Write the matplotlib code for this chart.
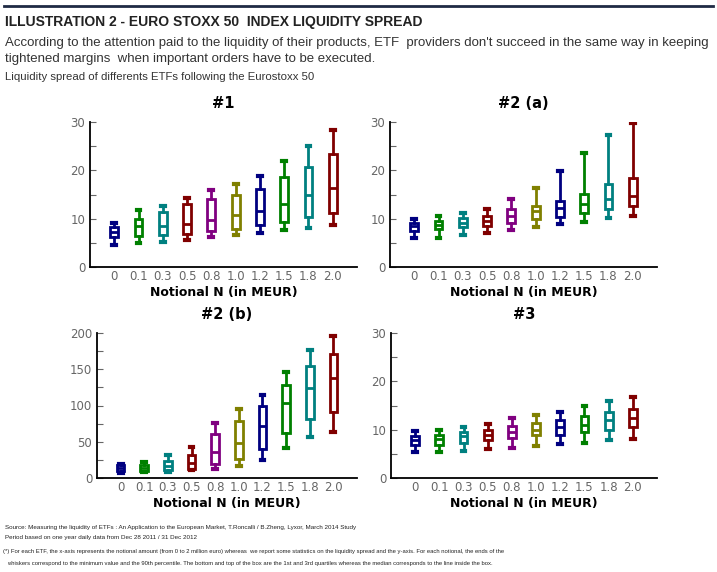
import numpy as np
import matplotlib.pyplot as plt
from matplotlib.ticker import MultipleLocator

notional = ['0', '0.1', '0.3', '0.5', '0.8', '1.0', '1.2', '1.5', '1.8', '2.0']
box_colors = ['#000080', '#008000', '#008080', '#800000', '#800080',
              '#808000', '#000080', '#008000', '#008080', '#800000']

# ETF #1
p1_low = [4.6, 5.0, 5.2, 5.6, 6.2, 6.7, 7.0, 7.6, 8.1, 8.6]
p1_q1 = [6.2, 6.4, 6.7, 6.9, 7.4, 7.8, 8.6, 9.4, 10.3, 11.2]
p1_med = [7.2, 8.4, 8.4, 8.8, 9.7, 10.7, 11.6, 13.0, 15.0, 16.3]
p1_q3 = [8.3, 9.9, 11.3, 13.0, 14.1, 15.0, 16.1, 18.6, 20.6, 23.4]
p1_high = [9.1, 11.7, 12.6, 14.3, 16.0, 17.1, 18.8, 21.9, 25.1, 28.3]

# ETF #2 (a)
p2a_low = [5.9, 6.0, 6.6, 7.0, 7.7, 8.2, 8.8, 9.4, 10.1, 10.6]
p2a_q1 = [7.5, 7.9, 8.3, 8.5, 9.2, 9.9, 10.4, 11.2, 12.1, 12.6]
p2a_med = [8.4, 8.6, 9.1, 9.5, 10.6, 11.6, 12.3, 13.0, 14.0, 14.6]
p2a_q3 = [9.1, 9.5, 10.1, 10.6, 11.9, 12.7, 13.6, 15.2, 17.2, 18.4]
p2a_high = [10.0, 10.5, 11.2, 12.1, 14.1, 16.4, 19.8, 23.6, 27.4, 29.7]

# ETF #2 (b)
p2b_low = [6.9, 7.8, 8.7, 10.6, 12.9, 17.0, 24.4, 41.4, 56.6, 63.4]
p2b_q1 = [9.2, 9.7, 10.6, 12.9, 19.8, 26.2, 40.5, 62.5, 81.4, 91.5]
p2b_med = [13.3, 13.8, 16.1, 20.7, 35.9, 48.3, 71.3, 103.4, 124.6, 138.4]
p2b_q3 = [17.9, 18.4, 23.0, 31.3, 61.1, 79.1, 99.8, 127.8, 155.0, 171.5]
p2b_high = [19.8, 21.6, 32.2, 42.8, 75.9, 95.6, 115.0, 146.7, 176.1, 196.3]

# ETF #3
p3_low = [5.4, 5.4, 5.6, 5.9, 6.3, 6.6, 7.0, 7.3, 7.8, 8.1]
p3_q1 = [6.8, 6.8, 7.3, 7.9, 8.2, 8.8, 9.0, 9.5, 10.0, 10.5]
p3_med = [7.8, 8.0, 8.6, 9.0, 9.5, 9.9, 10.6, 10.9, 12.0, 12.5]
p3_q3 = [8.7, 9.0, 9.6, 10.0, 10.8, 11.4, 11.9, 12.8, 13.7, 14.3]
p3_high = [9.7, 10.0, 10.6, 11.2, 12.4, 13.1, 13.7, 14.8, 16.0, 16.7]


def draw_panel(ax, title, low, q1, med, q3, high, ymax, ystep):
    stats = []
    for i in range(len(notional)):
        stats.append({'whislo': low[i], 'q1': q1[i], 'med': med[i],
                      'q3': q3[i], 'whishi': high[i], 'fliers': []})
    pos = np.arange(1, len(notional) + 1)
    res = ax.bxp(stats, positions=pos, widths=0.32, showfliers=False,
                 patch_artist=True, capwidths=0.16)
    for i, c in enumerate(box_colors):
        res['boxes'][i].set(facecolor='white', edgecolor=c, linewidth=2)
        res['medians'][i].set(color=c, linewidth=2)
        for j in (2 * i, 2 * i + 1):
            res['whiskers'][j].set(color=c, linewidth=2)
            res['caps'][j].set(color=c, linewidth=3)
    ax.set_xlim(0, 11)
    ax.set_ylim(0, ymax)
    ax.set_xticks(pos)
    ax.set_xticklabels(notional)
    ax.yaxis.set_major_locator(MultipleLocator(ystep))
    ax.yaxis.set_minor_locator(MultipleLocator(ystep / 2))
    ax.tick_params(axis='x', length=0, colors='#666666', labelsize=8.5, pad=2)
    ax.tick_params(axis='y', which='both', direction='in', colors='#666666',
                   labelsize=8.5, length=4, width=0.8)
    ax.spines['top'].set_visible(False)
    ax.spines['right'].set_visible(False)
    ax.spines['left'].set_linewidth(1.3)
    ax.spines['bottom'].set_linewidth(1.3)
    ax.set_title(title, fontsize=10.5, fontweight='bold', pad=10)
    ax.set_xlabel('Notional N (in MEUR)', fontsize=9, fontweight='bold', labelpad=2)


fig = plt.figure(figsize=(7.17, 5.72), dpi=100)
W, H = 717, 572


def axes_px(left, top, right, bottom):
    return fig.add_axes([left / W, 1 - bottom / H, (right - left) / W, (bottom - top) / H])


ax1 = axes_px(90, 122, 357, 267)
draw_panel(ax1, '#1', p1_low, p1_q1, p1_med, p1_q3, p1_high, 30, 10)
ax2 = axes_px(390, 122, 657, 267)
draw_panel(ax2, '#2 (a)', p2a_low, p2a_q1, p2a_med, p2a_q3, p2a_high, 30, 10)
ax3 = axes_px(97, 333, 357, 478)
draw_panel(ax3, '#2 (b)', p2b_low, p2b_q1, p2b_med, p2b_q3, p2b_high, 200, 50)
ax4 = axes_px(391, 333, 657, 478)
draw_panel(ax4, '#3', p3_low, p3_q1, p3_med, p3_q3, p3_high, 30, 10)

txt = ['Liberation Sans', 'DejaVu Sans']

fig.add_artist(plt.Line2D([0.005, 0.995], [1 - 6 / H, 1 - 6 / H], color='#1f2a44', linewidth=2))
fig.text(5 / W, 1 - 22 / H, 'ILLUSTRATION 2 - EURO STOXX 50  INDEX LIQUIDITY SPREAD',
         fontsize=10, fontweight='bold', va='center', family=txt, color='#222222')
fig.text(5 / W, 1 - 43 / H,
         "According to the attention paid to the liquidity of their products, ETF  providers don't succeed in the same way in keeping",
         fontsize=9.5, va='center', family=txt, color='#333333')
fig.text(5 / W, 1 - 59 / H, 'tightened margins  when important orders have to be executed.',
         fontsize=9.5, va='center', family=txt, color='#333333')
fig.text(5 / W, 1 - 77 / H, 'Liquidity spread of differents ETFs following the Eurostoxx 50',
         fontsize=8.2, va='center', family=txt, color='#333333')

fig.text(5 / W, 1 - 527 / H,
         'Source: Measuring the liquidity of ETFs : An Application to the European Market, T.Roncalli / B.Zheng, Lyxor, March 2014 Study',
         fontsize=4.5, va='center', family=txt, color='#222222')
fig.text(5 / W, 1 - 537 / H, 'Period based on one year daily data from Dec 28 2011 / 31 Dec 2012',
         fontsize=4.5, va='center', family=txt, color='#222222')
fig.text(3 / W, 1 - 552 / H,
         '(*) For each ETF, the x-axis represents the notional amount (from 0 to 2 million euro) whereas  we report some statistics on the liquidity spread and the y-axis. For each notional, the ends of the',
         fontsize=4.2, va='center', family=txt, color='#222222')
fig.text(7 / W, 1 - 563 / H,
         'whiskers correspond to the minimum value and the 90th percentile. The bottom and top of the box are the 1st and 3rd quartiles whereas the median corresponds to the line inside the box.',
         fontsize=4.2, va='center', family=txt, color='#222222')

fig.savefig('out.png', dpi=100)
